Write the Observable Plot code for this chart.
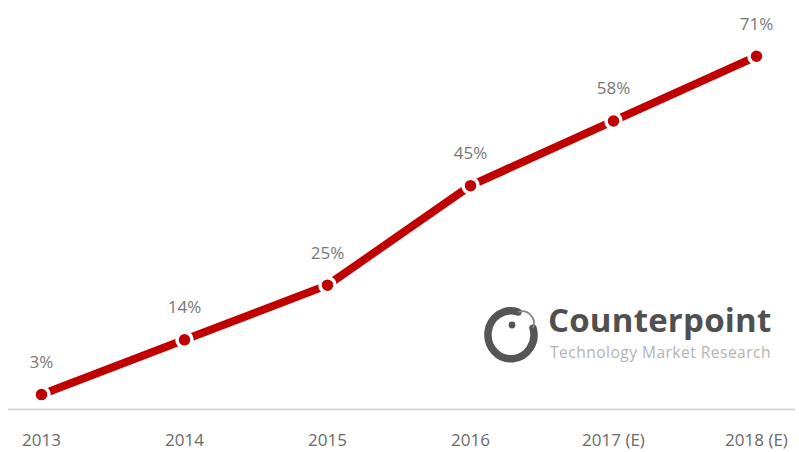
<!DOCTYPE html>
<html>
<head>
<meta charset="utf-8">
<script src="https://cdn.jsdelivr.net/npm/d3@7"></script>
<script src="https://cdn.jsdelivr.net/npm/@observablehq/plot@0.6"></script>
<style>
  html, body { margin: 0; padding: 0; background: #fff; }
  #wrap { position: relative; width: 799px; height: 452px; overflow: hidden; }
  #logo { position: absolute; left: 484px; top: 302px; width: 310px; height: 62px; }
  #logo .name { position: absolute; left: 64px; top: -5px; font-family: "Open Sans", sans-serif; font-weight: 700; font-size: 33px; color: #505050; letter-spacing: 0.2px; white-space: nowrap; }
  #logo .sub { position: absolute; left: 66px; top: 39px; font-family: "Open Sans", sans-serif; font-size: 15.5px; color: #b4b4b4; letter-spacing: 0.5px; white-space: nowrap; }
</style>
</head>
<body>
<div id="wrap">
  <div id="chart"></div>
  <div id="logo">
    <svg width="56" height="58" viewBox="0 0 56 58" style="position:absolute;left:0;top:3px">
      <path d="M 34 7 A 23 24 0 1 0 49 23" fill="none" stroke="#555" stroke-width="7.5" stroke-linecap="round"/>
      <circle cx="28" cy="20" r="3.4" fill="#555"/>
      <path d="M 34 7 A 12 12 0 0 1 49 23" fill="none" stroke="#888" stroke-width="1.8"/>
    </svg>
    <div class="name">Counterpoint</div>
    <div class="sub">Technology Market Research</div>
  </div>
</div>
<script>
const years = ["2013", "2014", "2015", "2016", "2017 (E)", "2018 (E)"];
const shares = [3, 14, 25, 45, 58, 71];
const labels = ["3%", "14%", "25%", "45%", "58%", "71%"];

const data = years.map((y, i) => ({year: y, value: shares[i], label: labels[i]}));

const chart = Plot.plot({
  width: 799,
  height: 452,
  marginTop: 11,
  marginBottom: 43,
  marginLeft: 8,
  marginRight: 4,
  style: {fontFamily: "'Open Sans', sans-serif", background: "white"},
  x: {type: "point", domain: years, range: [39, 758], padding: 0, label: null},
  y: {domain: [0, 80], axis: null},
  marks: [
    Plot.ruleY([0], {stroke: "#d8d8d8", strokeWidth: 2}),
    Plot.axisX({tickSize: 0, tickPadding: 24, fontSize: 17, color: "#6a6a6a", label: null}),
    Plot.line(data, {x: "year", y: "value", stroke: "#c00000", strokeWidth: 8}),
    Plot.dot(data, {x: "year", y: "value", r: 7.5, fill: "#c00000", stroke: "white", strokeWidth: 3.5}),
    Plot.text(data, {x: "year", y: "value", text: "label", dy: -32, fontSize: 17, fill: "#777777"})
  ]
});
document.getElementById("chart").appendChild(chart);
</script>
</body>
</html>
